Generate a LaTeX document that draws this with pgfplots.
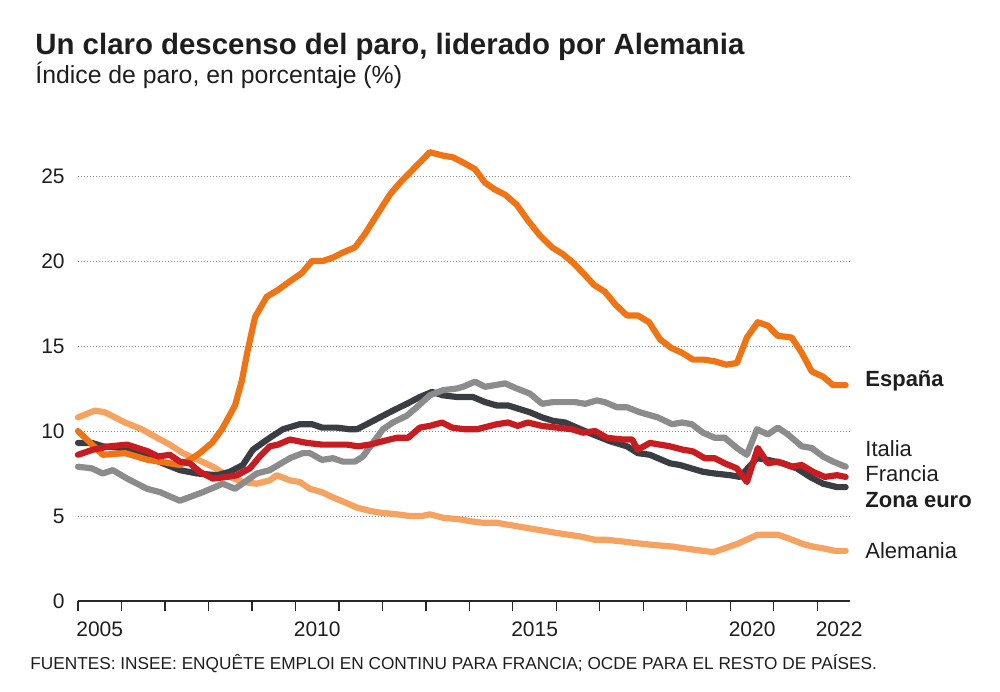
\documentclass[border=0pt]{standalone}
\usepackage{fontspec}
\setmainfont{Liberation Sans}
\usepackage{pgfplots}
\pgfplotsset{compat=1.18}
\definecolor{spain}{RGB}{240,115,20}
\definecolor{germany}{RGB}{246,162,96}
\definecolor{italy}{RGB}{140,140,140}
\definecolor{euro}{RGB}{58,62,68}
\definecolor{france}{RGB}{200,28,32}
\definecolor{txt}{RGB}{30,30,30}
\definecolor{axisc}{RGB}{40,40,40}
\begin{document}
\begin{tikzpicture}
\begin{axis}[
  at={(0pt,0pt)}, anchor=south west,
  scale only axis, width=386pt, height=229.5pt,
  xmin=2005, xmax=2022.75, ymin=0, ymax=27,
  clip=false,
  axis lines*=left,
  y axis line style={draw=none},
  x axis line style={line width=0.6pt, draw=axisc},
  tick align=outside,
  major tick length=5pt,
  xtick={2005,...,2022}, xticklabels={},
  x tick style={line width=0.6pt, draw=axisc},
  extra x ticks={2005.5,2010.5,2015.5,2020.5,2022.5},
  extra x tick labels={2005,2010,2015,2020,2022},
  extra x tick style={major tick length=0pt, tick style={draw=none},
     tick label style={anchor=north, inner sep=0pt, yshift=-10.3pt}},
  ytick={0,5,10,15,20,25},
  y tick style={draw=none},
  yticklabel style={anchor=east, inner sep=0pt, xshift=-1.5pt},
  tick label style={font=\fontsize{10.5}{12}\selectfont, text=txt},
  /pgf/number format/assume math mode=true,
  ymajorgrids=true,
  grid style={line width=0.5pt, draw=black!45, dash pattern=on 0.5pt off 1pt},
  every axis plot/.append style={line width=3.1pt, line join=round, line cap=round},
]
\addplot[germany] coordinates {
(2005.0,10.8) (2005.39,11.2) (2005.62,11.1) (2006.08,10.5) (2006.47,10.1) (2006.82,9.6) (2007.11,9.2) (2007.41,8.7) (2007.76,8.3) (2008.10,7.9) (2008.49,7.3) (2008.79,7.0) (2009.11,6.9) (2009.41,7.1) (2009.57,7.4) (2009.87,7.1) (2010.10,7.0) (2010.33,6.6) (2010.61,6.4) (2010.86,6.1) (2011.14,5.8) (2011.41,5.5) (2011.71,5.3) (2011.94,5.2) (2012.33,5.1) (2012.63,5.0) (2012.91,5.0) (2013.09,5.1) (2013.39,4.9) (2013.78,4.8) (2014.01,4.7) (2014.31,4.6) (2014.63,4.6) (2015.09,4.4) (2015.55,4.2) (2016.01,4.0) (2016.54,3.8) (2016.89,3.6) (2017.16,3.6) (2017.53,3.5) (2017.85,3.4) (2018.22,3.3) (2018.68,3.2) (2019.07,3.05) (2019.53,2.9) (2019.64,2.9) (2020.15,3.35) (2020.63,3.9) (2021.09,3.9) (2021.32,3.7) (2021.67,3.35) (2021.90,3.2) (2022.13,3.1) (2022.40,2.95) (2022.65,2.95)
};
\addplot[euro] coordinates {
(2005.0,9.3) (2005.32,9.3) (2005.57,9.1) (2006.03,9.0) (2006.59,8.5) (2006.95,8.1) (2007.34,7.7) (2007.74,7.5) (2008.20,7.4) (2008.49,7.6) (2008.79,8.0) (2009.02,8.9) (2009.41,9.6) (2009.71,10.1) (2010.10,10.4) (2010.38,10.4) (2010.61,10.2) (2010.95,10.2) (2011.25,10.1) (2011.41,10.1) (2011.64,10.4) (2011.94,10.8) (2012.24,11.2) (2012.56,11.6) (2012.86,12.0) (2013.14,12.3) (2013.39,12.1) (2013.71,12.0) (2014.08,12.0) (2014.36,11.7) (2014.63,11.5) (2014.89,11.5) (2015.39,11.1) (2015.67,10.8) (2015.92,10.6) (2016.20,10.5) (2016.47,10.2) (2016.84,9.8) (2017.23,9.4) (2017.62,9.1) (2017.87,8.7) (2018.15,8.6) (2018.61,8.1) (2018.84,8.0) (2019.37,7.6) (2019.64,7.5) (2019.99,7.4) (2020.22,7.3) (2020.61,8.4) (2020.86,8.3) (2021.21,8.1) (2021.53,7.8) (2021.83,7.3) (2022.13,6.9) (2022.45,6.7) (2022.65,6.7)
};
\addplot[italy] coordinates {
(2005.0,7.9) (2005.32,7.8) (2005.57,7.5) (2005.80,7.7) (2006.13,7.2) (2006.59,6.6) (2006.89,6.4) (2007.34,5.9) (2007.87,6.4) (2008.33,6.9) (2008.61,6.6) (2009.11,7.5) (2009.41,7.7) (2009.87,8.4) (2010.17,8.7) (2010.33,8.7) (2010.61,8.3) (2010.86,8.4) (2011.09,8.2) (2011.37,8.2) (2011.55,8.5) (2011.78,9.3) (2012.01,10.1) (2012.24,10.5) (2012.56,10.9) (2012.79,11.4) (2013.09,12.1) (2013.39,12.4) (2013.71,12.5) (2013.85,12.6) (2014.13,12.9) (2014.36,12.6) (2014.82,12.8) (2015.09,12.5) (2015.39,12.2) (2015.67,11.6) (2015.92,11.7) (2016.43,11.7) (2016.66,11.6) (2016.93,11.8) (2017.11,11.7) (2017.39,11.4) (2017.62,11.4) (2017.92,11.1) (2018.33,10.8) (2018.66,10.4) (2018.89,10.5) (2019.11,10.4) (2019.37,9.9) (2019.64,9.6) (2019.87,9.6) (2020.15,9.0) (2020.38,8.6) (2020.61,10.1) (2020.86,9.8) (2021.09,10.2) (2021.32,9.8) (2021.64,9.1) (2021.87,9.0) (2022.13,8.5) (2022.36,8.2) (2022.65,7.9)
};
\addplot[spain] coordinates {
(2005.0,10.0) (2005.57,8.6) (2006.08,8.7) (2006.61,8.3) (2007.11,8.1) (2007.34,8.0) (2007.57,8.3) (2007.80,8.7) (2008.08,9.3) (2008.31,10.1) (2008.61,11.5) (2008.77,13.0) (2008.89,14.6) (2009.07,16.7) (2009.34,17.9) (2009.60,18.3) (2009.87,18.8) (2010.15,19.3) (2010.38,20.0) (2010.63,20.0) (2010.86,20.2) (2011.09,20.5) (2011.37,20.8) (2011.60,21.6) (2011.87,22.7) (2012.17,23.9) (2012.40,24.6) (2012.63,25.2) (2012.86,25.8) (2013.09,26.4) (2013.39,26.2) (2013.62,26.1) (2013.85,25.8) (2014.13,25.4) (2014.36,24.6) (2014.59,24.2) (2014.82,23.9) (2015.09,23.3) (2015.34,22.4) (2015.62,21.5) (2015.90,20.8) (2016.15,20.4) (2016.38,19.9) (2016.61,19.3) (2016.86,18.6) (2017.11,18.2) (2017.37,17.4) (2017.62,16.8) (2017.87,16.8) (2018.13,16.4) (2018.38,15.4) (2018.63,14.9) (2018.89,14.6) (2019.14,14.2) (2019.39,14.2) (2019.64,14.1) (2019.90,13.9) (2020.15,14.0) (2020.38,15.5) (2020.63,16.4) (2020.86,16.2) (2021.09,15.6) (2021.41,15.5) (2021.64,14.6) (2021.87,13.5) (2022.13,13.2) (2022.36,12.7) (2022.65,12.7)
};
\addplot[france] coordinates {
(2005.0,8.6) (2005.34,8.9) (2005.74,9.1) (2006.13,9.2) (2006.61,8.8) (2006.84,8.5) (2007.11,8.6) (2007.34,8.2) (2007.57,8.1) (2007.80,7.6) (2008.10,7.2) (2008.43,7.3) (2008.66,7.4) (2008.95,7.8) (2009.18,8.5) (2009.41,9.1) (2009.60,9.2) (2009.87,9.5) (2010.26,9.3) (2010.61,9.2) (2011.18,9.2) (2011.44,9.1) (2011.71,9.2) (2012.01,9.4) (2012.33,9.6) (2012.59,9.6) (2012.86,10.2) (2013.09,10.3) (2013.37,10.5) (2013.60,10.2) (2013.90,10.1) (2014.17,10.1) (2014.63,10.4) (2014.89,10.5) (2015.11,10.3) (2015.34,10.5) (2015.67,10.3) (2016.01,10.2) (2016.36,10.1) (2016.61,9.9) (2016.89,10.0) (2017.16,9.6) (2017.53,9.5) (2017.74,9.5) (2017.87,8.9) (2018.15,9.3) (2018.61,9.1) (2018.91,8.9) (2019.14,8.8) (2019.41,8.4) (2019.64,8.4) (2019.87,8.1) (2020.15,7.8) (2020.38,7.0) (2020.63,9.0) (2020.86,8.1) (2021.09,8.2) (2021.41,7.9) (2021.64,8.0) (2021.90,7.6) (2022.17,7.3) (2022.45,7.4) (2022.65,7.3)
};
\begin{scope}[every node/.style={anchor=base west, inner sep=0pt, text=txt, xshift=7.5pt, font=\fontsize{11}{13}\selectfont}]
\node[font=\fontsize{11}{13}\selectfont\bfseries] at (axis cs:2022.75,12.62) {España};
\node at (axis cs:2022.75,8.50) {Italia};
\node at (axis cs:2022.75,7.03) {Francia};
\node[font=\fontsize{11}{13}\selectfont\bfseries] at (axis cs:2022.75,5.50) {Zona euro};
\node at (axis cs:2022.75,2.50) {Alemania};
\end{scope}
\end{axis}
\node[anchor=base west, inner sep=0pt, text=txt, font=\fontsize{14.7}{17}\selectfont\bfseries] at (-21.5pt,273.3pt) {Un claro descenso del paro, liderado por Alemania};
\node[anchor=base west, inner sep=0pt, text=txt, font=\fontsize{12.4}{14}\selectfont] at (-21.5pt,258.5pt) {Índice de paro, en porcentaje (\%)};
\node[anchor=base west, inner sep=0pt, text=txt, font=\fontsize{8.62}{10}\selectfont] at (-24pt,-34pt) {FUENTES: INSEE: ENQUÊTE EMPLOI EN CONTINU PARA FRANCIA; OCDE PARA EL RESTO DE PAÍSES.};
\pgfresetboundingbox
\path[use as bounding box] (-39pt,-45pt) rectangle (461pt,300.5pt);
\end{tikzpicture}
\end{document}
